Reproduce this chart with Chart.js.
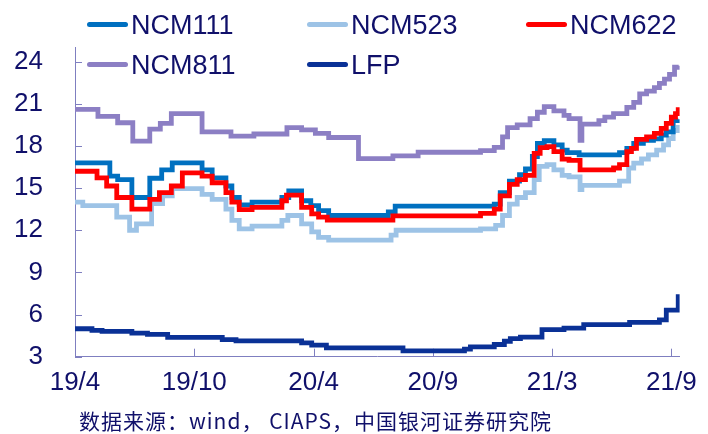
<!DOCTYPE html>
<html>
<head>
<meta charset="utf-8">
<script src="https://cdn.jsdelivr.net/npm/chart.js@4"></script>
<style>
body{margin:0;background:#fff;}
#wrap{position:relative;width:708px;height:434px;overflow:hidden;font-family:"Liberation Sans",Arial,sans-serif;color:#10106a;}
#chart{position:absolute;left:0;top:0;}
.key{position:absolute;font-size:27px;line-height:30px;white-space:nowrap;}
.key i{position:absolute;left:-44px;top:12px;width:41px;height:5px;border-radius:3px;}
#src{position:absolute;left:79px;top:405px;font-size:21px;letter-spacing:1px;font-family:"Noto Sans CJK SC",sans-serif;white-space:nowrap;}
</style>
</head>
<body>
<div id="wrap">
<canvas id="chart" width="708" height="434"></canvas>
<div class="key" style="left:131px;top:10px"><i style="background:#0070c0"></i>NCM111</div>
<div class="key" style="left:351px;top:10px"><i style="background:#9dc3e6"></i>NCM523</div>
<div class="key" style="left:570px;top:10px"><i style="background:#ff0000"></i>NCM622</div>
<div class="key" style="left:131px;top:50px"><i style="background:#8c7fc4"></i>NCM811</div>
<div class="key" style="left:351px;top:50px"><i style="background:#0a3196"></i>LFP</div>
<div id="src">数据来源：wind， CIAPS，中国银河证券研究院</div>
</div>
<script>
// x = weeks from 2019/4, labels every 26 weeks; each pair is [week, price] reached at that week
const tickLabels = ['19/4', '19/10', '20/4', '20/9', '21/3', '21/9'];
const labelStep = 26;
const yTicks = [3, 6, 9, 12, 15, 18, 21, 24];

const ncm111 = [[0,16.8],[7.6,15.85],[9.3,15.6],[12.4,14.33],[16.3,15.7],[18.9,16.3],[21.2,16.8],[27.7,16.3],[29.9,15.73],
  [32.9,15.15],[34.2,14.33],[35.8,13.8],[38.6,14.0],[45.1,14.33],[46.6,14.8],[49.4,14.1],[51.4,13.75],[53.1,13.4],
  [55.3,13.05],[68.3,13.3],[69.8,13.72],[91.4,13.86],[92.7,14.68],[94.7,15.5],[96.9,15.96],[98.2,16.36],[99.7,17.25],
  [100.8,18.18],[102.3,18.37],[104.4,18.07],[106.2,17.7],[107.3,17.53],[109.9,17.37],[118.7,17.53],[120.3,17.83],
  [121.8,18.18],[123.9,18.4],[126.1,18.5],[127.8,18.77],[128.9,19.0],[130.4,19.8],[131.5,19.9]];

const ncm523 = [[0,14.0],[1.7,13.75],[9.1,12.93],[11.9,12.0],[13.4,12.46],[16.7,13.9],[19.1,14.45],[21.2,14.96],[27.7,14.56],
  [29.9,14.2],[32.9,13.5],[34.2,12.7],[35.8,12.1],[38.6,12.3],[45.1,12.7],[46.4,13.05],[49.4,12.46],[51.6,11.88],
  [53.1,11.5],[55.3,11.3],[68.9,11.65],[70.0,12.0],[88.4,12.1],[91.7,12.35],[93.2,13.05],[94.7,13.86],[96.4,14.33],
  [98.2,14.68],[100.1,15.6],[101.2,16.55],[102.9,16.67],[104.4,16.3],[106.2,15.9],[107.7,15.8],[110.1,14.9],
  [110.5,15.2],[118.7,15.5],[120.7,16.43],[121.8,16.78],[123.5,17.07],[125.0,17.37],[126.8,17.7],[128.3,18.07],
  [129.4,18.53],[130.4,19.1],[131.5,19.5]];

const ncm622 = [[0,16.2],[4.8,15.73],[6.9,15.15],[9.1,14.33],[12.4,13.5],[16.3,14.2],[18.4,14.68],[21.0,15.15],[23.4,16.08],
  [27.7,15.85],[29.9,15.38],[32.9,14.68],[34.2,14.0],[35.8,13.47],[38.6,13.63],[45.1,14.1],[46.1,14.5],[49.4,13.63],
  [51.6,13.16],[53.1,12.93],[55.0,12.72],[69.3,13.03],[88.4,13.2],[91.4,13.5],[92.7,14.45],[94.7,15.27],[96.4,15.6],
  [98.2,15.9],[100.1,17.47],[101.4,17.88],[102.9,17.95],[104.4,17.6],[106.2,17.06],[107.7,16.97],[110.1,16.3],
  [117.4,16.43],[118.7,16.67],[120.3,17.6],[121.3,17.83],[122.4,18.47],[124.6,18.65],[126.3,18.9],[127.8,19.25],
  [128.9,19.6],[130.0,20.05],[130.9,20.3],[131.5,20.75]];

const ncm811 = [[0,20.6],[5.0,20.1],[9.3,19.65],[12.6,18.35],[16.3,19.2],[18.6,19.6],[21.0,20.3],[27.7,19.0],[34.0,18.7],
  [39.0,18.85],[46.2,19.3],[49.4,19.15],[52.4,18.9],[55.3,18.6],[61.8,17.1],[69.3,17.3],[74.8,17.55],[88.4,17.67],
  [91.4,17.9],[93.2,18.65],[94.3,19.3],[96.4,19.5],[99.2,19.94],[100.8,20.4],[102.3,20.8],[104.4,20.5],[106.6,20.17],
  [107.7,19.95],[110.1,18.4],[110.5,19.55],[114.2,19.8],[115.5,20.05],[117.4,20.3],[120.3,20.75],[121.8,21.1],
  [123.1,21.7],[124.6,21.9],[126.3,22.15],[127.4,22.45],[128.5,22.75],[129.6,23.1],[130.7,23.6],[131.6,23.7]];

const lfp = [[0,4.99],[3.7,4.87],[5.9,4.8],[12.4,4.68],[15.8,4.59],[20.2,4.38],[32.1,4.22],[35.1,4.12],[49.4,3.98],
  [51.6,3.82],[54.8,3.63],[71.5,3.42],[84.9,3.54],[86.2,3.7],[91.4,3.87],[93.6,4.1],[94.9,4.29],[97.1,4.4],
  [101.8,4.92],[106.6,5.03],[110.9,5.29],[120.9,5.45],[127.4,5.62],[128.9,6.32],[131.5,7.44]];

const textColor = '#10106a';
const axisColor = '#7f7fc0';

function series(label, pts, color, order) {
  return {
    label,
    data: pts.map(([x, y]) => ({ x, y })),
    borderColor: color,
    backgroundColor: color,
    borderWidth: 4.8,
    pointRadius: 0,
    stepped: 'before',
    order
  };
}

// small tick marks pointing into the plot
const innerTicks = {
  id: 'innerTicks',
  beforeDatasetsDraw(chart) {
    const { ctx, chartArea: a, scales: { x, y } } = chart;
    ctx.save();
    ctx.strokeStyle = axisColor;
    ctx.lineWidth = 1;
    ctx.beginPath();
    y.ticks.forEach(t => {
      const py = Math.round(y.getPixelForValue(t.value)) + 0.5;
      ctx.moveTo(a.left, py);
      ctx.lineTo(a.left + 7, py);
    });
    x.ticks.forEach(t => {
      const px = Math.round(x.getPixelForValue(t.value)) + 0.5;
      ctx.moveTo(px, a.bottom);
      ctx.lineTo(px, a.bottom - 8);
    });
    ctx.stroke();
    ctx.restore();
  }
};

const tickFont = { family: '"Liberation Sans", Arial, sans-serif', size: 26 };

new Chart(document.getElementById('chart'), {
  type: 'line',
  data: {
    datasets: [
      series('NCM622', ncm622, '#ff0000', 0),
      series('NCM111', ncm111, '#0070c0', 1),
      series('NCM523', ncm523, '#9dc3e6', 2),
      series('NCM811', ncm811, '#8c7fc4', 3),
      series('LFP', lfp, '#0a3196', 4)
    ]
  },
  options: {
    responsive: false,
    animation: false,
    devicePixelRatio: 1,
    layout: { padding: { top: 43, right: 26, bottom: 0, left: 0 } },
    plugins: { legend: { display: false }, tooltip: { enabled: false } },
    scales: {
      x: {
        type: 'linear',
        min: 0,
        max: 131.8,
        afterBuildTicks: s => { s.ticks = tickLabels.map((l, i) => ({ value: i * labelStep })); },
        afterFit: s => { s.height = 77.3; },
        ticks: {
          callback: v => tickLabels[Math.round(v / labelStep)],
          font: tickFont, color: textColor, padding: 11, maxRotation: 0, autoSkip: false
        },
        grid: { display: false, drawTicks: false },
        border: { color: axisColor, width: 1 }
      },
      y: {
        min: 3,
        max: 25,
        afterBuildTicks: s => { s.ticks = yTicks.map(v => ({ value: v })); },
        afterFit: s => { s.width = 75; },
        ticks: { font: tickFont, color: textColor, padding: 32 },
        grid: { display: false, drawTicks: false },
        border: { color: axisColor, width: 1 }
      }
    }
  },
  plugins: [innerTicks]
});
</script>
</body>
</html>
